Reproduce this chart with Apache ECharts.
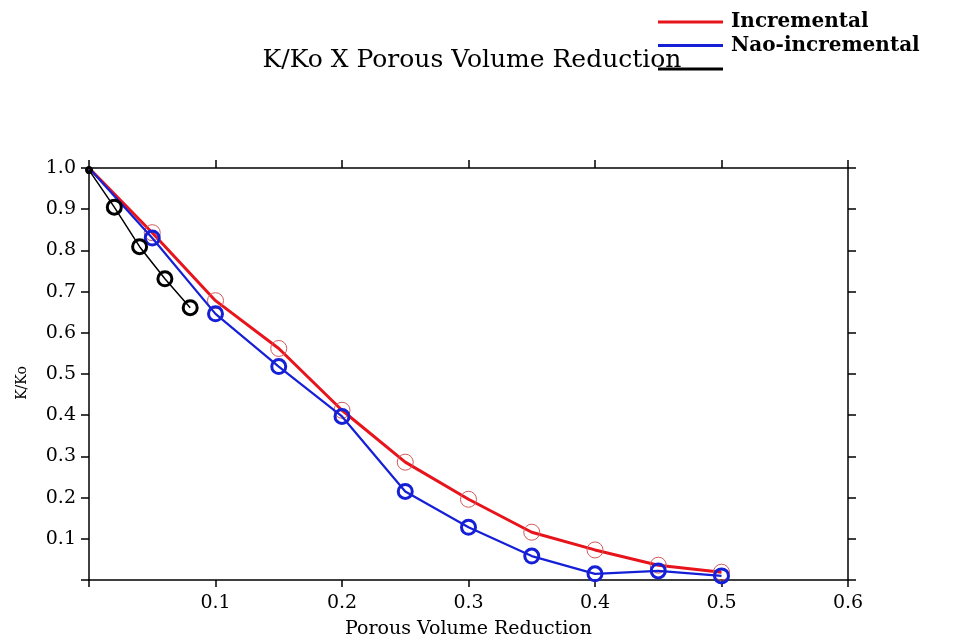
<!DOCTYPE html>
<html>
<head>
<meta charset="utf-8">
<script src="https://cdn.jsdelivr.net/npm/echarts@6/dist/echarts.min.js"></script>
<style>
  html, body { margin: 0; padding: 0; background: #fff; }
  #chart { width: 964px; height: 644px; }
</style>
</head>
<body>
<div id="chart"></div>
<script>
// porous volume reduction (x) and K/Ko (y)
const xSteps = [0, 0.05, 0.1, 0.15, 0.2, 0.25, 0.3, 0.35, 0.4, 0.45, 0.5]
const incremental = [1.0, 0.843, 0.678, 0.562, 0.412, 0.286, 0.196, 0.116, 0.073, 0.036, 0.019]
const naoIncremental = [1.0, 0.830, 0.646, 0.518, 0.397, 0.215, 0.128, 0.058, 0.015, 0.022, 0.010]
const xShort = [0, 0.02, 0.04, 0.06, 0.08]
const thirdSeries = [0.995, 0.905, 0.809, 0.731, 0.661]

const seriesNames = ['Incremental', 'Nao-incremental', ' ']
const serif = '"DejaVu Serif", "Liberation Serif", serif'

// first point (the origin) has no ring drawn on it
const pairs = (xs, ys, firstSize) => xs.map((x, i) => {
  if (i === 0) return { value: [x, ys[i]], symbolSize: firstSize }
  return [x, ys[i]]
})

const chart = echarts.init(document.getElementById('chart'))

const axisLineStyle = { color: '#000', width: 1.5 }
const tickLabel = (v) => (v === 0 ? '' : v.toFixed(1))

const option = {
  backgroundColor: '#fff',
  animation: false,
  title: {
    text: 'K/Ko X Porous Volume Reduction',
    left: 467,
    textAlign: 'center',
    top: 43,
    textStyle: {
      fontFamily: serif,
      fontWeight: 'normal',
      fontSize: 25,
      color: '#000'
    }
  },
  legend: {
    orient: 'vertical',
    left: 653,
    top: 7,
    itemWidth: 65,
    itemHeight: 3,
    itemGap: 3.5,
    icon: 'rect',
    textStyle: {
      fontFamily: serif,
      fontWeight: 'bold',
      fontSize: 20,
      lineHeight: 20,
      color: '#000',
      padding: [0, 0, 0, 3]
    },
    data: [
      { name: seriesNames[0], itemStyle: { color: '#e8141c', borderWidth: 0 } },
      { name: seriesNames[1], itemStyle: { color: '#1520d6', borderWidth: 0 } },
      { name: seriesNames[2], itemStyle: { color: '#000', borderWidth: 0 } }
    ]
  },
  grid: {
    left: 89,
    right: 116,
    top: 168,
    bottom: 63,
    containLabel: false
  },
  xAxis: [
    {
      type: 'value',
      min: 0,
      max: 0.6,
      interval: 0.1,
      name: 'Porous Volume Reduction',
      nameLocation: 'middle',
      nameGap: 40,
      nameTextStyle: { fontFamily: serif, fontSize: 19, color: '#000' },
      axisLine: { show: true, onZero: false, lineStyle: axisLineStyle },
      axisTick: { show: true, inside: false, length: 7, lineStyle: axisLineStyle },
      axisLabel: { fontFamily: serif, fontSize: 19, color: '#000', margin: 14, formatter: tickLabel },
      splitLine: { show: false }
    },
    {
      type: 'value',
      position: 'top',
      min: 0,
      max: 0.6,
      interval: 0.1,
      axisLine: { show: true, onZero: false, lineStyle: axisLineStyle },
      axisTick: { show: true, inside: false, length: 8, lineStyle: axisLineStyle },
      axisLabel: { show: false },
      splitLine: { show: false }
    }
  ],
  yAxis: [
    {
      type: 'value',
      min: 0,
      max: 1.0,
      interval: 0.1,
      name: 'K/Ko',
      nameLocation: 'middle',
      nameGap: 60,
      nameTextStyle: { fontFamily: serif, fontSize: 14, color: '#000', padding: [0, 0, 0, -18] },
      axisLine: { show: true, onZero: false, lineStyle: axisLineStyle },
      axisTick: { show: true, inside: false, length: 8, lineStyle: axisLineStyle },
      axisLabel: { fontFamily: serif, fontSize: 19, color: '#000', margin: 13, formatter: tickLabel },
      splitLine: { show: false }
    },
    {
      type: 'value',
      position: 'right',
      min: 0,
      max: 1.0,
      interval: 0.1,
      axisLine: { show: true, onZero: false, lineStyle: axisLineStyle },
      axisTick: { show: true, inside: false, length: 8, lineStyle: axisLineStyle },
      axisLabel: { show: false },
      splitLine: { show: false }
    }
  ],
  series: [
    {
      name: seriesNames[0],
      type: 'line',
      data: pairs(xSteps, incremental, 0),
      symbol: 'circle',
      symbolSize: 16,
      showAllSymbol: true,
      lineStyle: { color: '#e8141c', width: 3 },
      itemStyle: { color: 'rgba(0,0,0,0)', borderColor: '#d05a5a', borderWidth: 1 },
      z: 2
    },
    {
      name: seriesNames[1],
      type: 'line',
      data: pairs(xSteps, naoIncremental, 0),
      symbol: 'circle',
      symbolSize: 14,
      showAllSymbol: true,
      lineStyle: { color: '#1520d6', width: 2.2 },
      itemStyle: { color: 'rgba(0,0,0,0)', borderColor: '#1520d6', borderWidth: 3 },
      z: 3
    },
    {
      name: seriesNames[2],
      type: 'line',
      data: pairs(xShort, thirdSeries, 5),
      symbol: 'circle',
      symbolSize: 14,
      showAllSymbol: true,
      lineStyle: { color: '#000', width: 1.5 },
      itemStyle: { color: 'rgba(0,0,0,0)', borderColor: '#000', borderWidth: 3 },
      z: 4
    }
  ]
}

chart.setOption(option)
</script>
</body>
</html>
